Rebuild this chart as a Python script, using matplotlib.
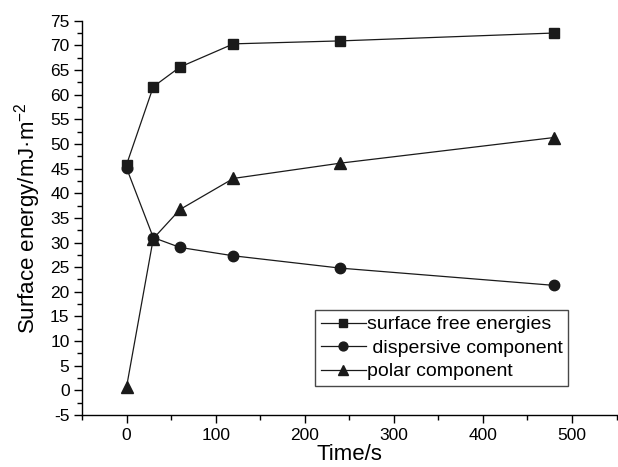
import matplotlib
matplotlib.use("Agg")
import matplotlib.pyplot as plt
from matplotlib.ticker import MultipleLocator

plt.rcParams['font.family'] = ['Liberation Sans', 'DejaVu Sans']
plt.rcParams['axes.unicode_minus'] = False
plt.rcParams['mathtext.fontset'] = 'custom'
plt.rcParams['mathtext.rm'] = 'Liberation Sans'
plt.rcParams['mathtext.it'] = 'Liberation Sans'

time_s = [0, 30, 60, 120, 240, 480]
surface_free = [45.8, 61.6, 65.6, 70.3, 70.9, 72.5]
dispersive = [45.1, 31.0, 29.0, 27.3, 24.8, 21.3]
polar = [0.7, 30.8, 36.7, 43.0, 46.1, 51.3]

fig = plt.figure(figsize=(6.18, 4.67), dpi=100)
ax = fig.add_axes([0.1327, 0.1113, 0.865, 0.8444])

kw = dict(color='#1a1a1a', linewidth=0.9, markersize=7.5)
ax.plot(time_s, surface_free, marker='s', label='surface free energies', **kw)
ax.plot(time_s, dispersive, marker='o', label=' dispersive component', **kw)
ax.plot(time_s, polar, marker='^', label='polar component', **{**kw, 'markersize': 8.5})

ax.set_xlim(-50, 550)
ax.set_ylim(-5, 75)
ax.xaxis.set_minor_locator(MultipleLocator(50))
ax.yaxis.set_major_locator(MultipleLocator(5))
ax.yaxis.set_minor_locator(MultipleLocator(2.5))
ax.set_xticks([0, 100, 200, 300, 400, 500])

for s in ['top', 'right']:
    ax.spines[s].set_visible(False)
for s in ['left', 'bottom']:
    ax.spines[s].set_linewidth(1.0)

ax.tick_params(which='major', direction='out', length=6, width=1.0, labelsize=12.5, pad=3)
ax.tick_params(which='minor', direction='out', length=3.5, width=1.0)

ax.set_xlabel('Time/s', fontsize=16, labelpad=1)
ax.set_ylabel('Surface energy/mJ·m$^{\\mathregular{-2}}$', fontsize=16, labelpad=5)

leg = ax.legend(loc='upper left', bbox_to_anchor=(315 / 618, 1 - 310 / 467),
                bbox_transform=fig.transFigure, borderaxespad=0,
                fontsize=14, frameon=True, fancybox=False, edgecolor='#1a1a1a',
                handlelength=2.3, handletextpad=0.05, borderpad=0.3, labelspacing=0.3,
                markerscale=0.85)
leg.get_frame().set_linewidth(1.0)

fig.savefig('out.png', dpi=100)
